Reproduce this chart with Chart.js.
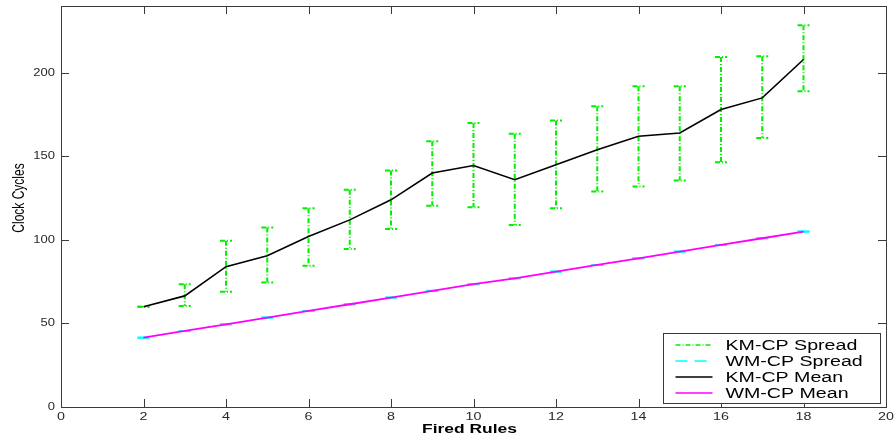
<!DOCTYPE html>
<html>
<head>
<meta charset="utf-8">
<script src="https://cdn.jsdelivr.net/npm/chart.js@4/dist/chart.umd.min.js"></script>
<style>
  html, body { margin: 0; padding: 0; background: #fff; }
  #wrap { width: 894px; height: 441px; }
</style>
</head>
<body>
<div id="wrap"><canvas id="c" width="894" height="441"></canvas></div>
<script>
// Fired rules on the x axis
const firedRules = [2, 3, 4, 5, 6, 7, 8, 9, 10, 11, 12, 13, 14, 15, 16, 17, 18];

// KM-CP: mean clock cycles and spread (min / max)
const kmMean = [60, 66.5, 84, 90.5, 102, 112, 124, 140, 144.5, 136, 145, 154, 162, 164, 178, 185, 208];
const kmLow  = [60, 60.5, 69, 74.5, 84.5, 94.5, 106.5, 120.5, 119.5, 109, 119, 129, 132, 135.5, 146.5, 161, 189];
const kmHigh = [60, 73.5, 99.5, 107.5, 119, 130, 141.5, 159, 170, 163.5, 171.5, 180, 192, 192, 209.5, 210, 228.5];

// WM-CP: mean clock cycles and spread (min / max)
const wmMean = [41.5, 45.5, 49.5, 53.5, 57.5, 61.5, 65.5, 69.5, 73.5, 77, 81, 85, 89, 93, 97, 101, 105];
const wmLow  = [41.5, 45.5, 49.5, 53.5, 57.5, 61.5, 65.5, 69.5, 73.5, 77, 81, 85, 89, 93, 97, 101, 105];
const wmHigh = [41.5, 45.5, 49.5, 53.5, 57.5, 61.5, 65.5, 69.5, 73.5, 77, 81, 85, 89, 93, 97, 101, 105];

// Axis ticks
const xTicks = [0, 2, 4, 6, 8, 10, 12, 14, 16, 18, 20];
const yTicks = [0, 50, 100, 150, 200];

const FONT = '"Liberation Sans", Arial, Helvetica, sans-serif';
const STRETCH = 1.4;
const GREEN = '#00f000';

const pts = (ys) => firedRules.map((x, i) => ({ x: x, y: ys[i] }));

const spreadDash = [5, 2, 1, 2];
const wmDash = [12, 7];

// draws text widened horizontally by sx
function wideText(ctx, text, x, y, font, sx, align) {
  ctx.save();
  ctx.translate(x, y);
  ctx.scale(sx, 1);
  ctx.font = font;
  ctx.textAlign = align;
  ctx.textBaseline = 'middle';
  ctx.fillText(text, 0, 0);
  ctx.restore();
}

// Error bars with caps, drawn under the mean lines
const spreadPlugin = {
  id: 'spreads',
  beforeDatasetsDraw(chart) {
    const ctx = chart.ctx;
    const xs = chart.scales.x, ys = chart.scales.y;
    const bars = [
      { low: wmLow, high: wmHigh, color: '#00ffff', dash: wmDash },
      { low: kmLow, high: kmHigh, color: GREEN, dash: spreadDash }
    ];
    const cap = 6;
    ctx.save();
    ctx.lineWidth = 2;
    bars.forEach(b => {
      ctx.strokeStyle = b.color;
      ctx.setLineDash(b.dash);
      firedRules.forEach((x, i) => {
        const px = xs.getPixelForValue(x);
        const pl = ys.getPixelForValue(b.low[i]);
        const ph = ys.getPixelForValue(b.high[i]);
        ctx.beginPath();
        ctx.moveTo(px, ph); ctx.lineTo(px, pl);
        ctx.stroke();
        ctx.beginPath();
        ctx.moveTo(px - cap, ph); ctx.lineTo(px + cap, ph);
        ctx.stroke();
        ctx.beginPath();
        ctx.moveTo(px - cap, pl); ctx.lineTo(px + cap, pl);
        ctx.stroke();
      });
    });
    ctx.restore();
  }
};

// Box frame, inward tick marks, tick labels, axis titles and the legend
const framePlugin = {
  id: 'frame',
  afterDraw(chart) {
    const ctx = chart.ctx;
    const a = chart.chartArea;
    const xs = chart.scales.x, ys = chart.scales.y;
    const tl = 8;
    ctx.save();
    ctx.strokeStyle = '#3a3a3a';
    ctx.lineWidth = 1;
    ctx.setLineDash([]);
    ctx.strokeRect(Math.round(a.left) + 0.5, Math.round(a.top) + 0.5,
                   Math.round(a.right - a.left), Math.round(a.bottom - a.top));
    ctx.beginPath();
    xTicks.forEach(v => {
      const px = Math.round(xs.getPixelForValue(v)) + 0.5;
      ctx.moveTo(px, a.bottom); ctx.lineTo(px, a.bottom - tl);
      ctx.moveTo(px, a.top); ctx.lineTo(px, a.top + tl);
    });
    yTicks.forEach(v => {
      const py = Math.round(ys.getPixelForValue(v)) + 0.5;
      ctx.moveTo(a.left, py); ctx.lineTo(a.left + tl, py);
      ctx.moveTo(a.right, py); ctx.lineTo(a.right - tl, py);
    });
    ctx.stroke();

    // tick labels
    ctx.fillStyle = '#2a2a2a';
    xTicks.forEach(v => {
      wideText(ctx, String(v), xs.getPixelForValue(v), a.bottom + 10, '11px ' + FONT, 1.3, 'center');
    });
    yTicks.forEach(v => {
      wideText(ctx, String(v), a.left - 6, ys.getPixelForValue(v), '10px ' + FONT, 1.3, 'right');
    });

    // axis titles
    ctx.fillStyle = '#000';
    wideText(ctx, 'Fired Rules', (a.left + a.right) / 2 - 4, 430, 'bold 12px ' + FONT, 1.45, 'center');

    ctx.save();
    ctx.translate(19, 198);
    ctx.scale(STRETCH, 1);
    ctx.rotate(-Math.PI / 2);
    ctx.font = '12px ' + FONT;
    ctx.textAlign = 'center';
    ctx.textBaseline = 'middle';
    ctx.fillText('Clock Cycles', 0, 0);
    ctx.restore();

    // legend
    const bw = 217, bh = 70;
    const bx = Math.round(a.right) - 223 + 0.5, by = Math.round(a.bottom) - 74 + 0.5;
    ctx.fillStyle = '#fff';
    ctx.fillRect(bx, by, bw, bh);
    ctx.strokeStyle = '#3a3a3a';
    ctx.lineWidth = 1;
    ctx.strokeRect(bx, by, bw, bh);
    const entries = chart.data.datasets.map(d => ({
      label: d.label, color: d.borderColor, dash: d.borderDash || [], lw: d.legendWidth || 1.5
    }));
    entries.forEach((e, i) => {
      const y = Math.round(by + 11 + i * 16);
      ctx.strokeStyle = e.color;
      ctx.lineWidth = e.lw;
      ctx.setLineDash(e.dash);
      ctx.beginPath();
      ctx.moveTo(bx + 12, y); ctx.lineTo(bx + 49, y);
      ctx.stroke();
      ctx.setLineDash([]);
      ctx.fillStyle = '#000';
      wideText(ctx, e.label, bx + 62, y + 1, '14px ' + FONT, STRETCH, 'left');
    });
    ctx.restore();
  }
};

new Chart(document.getElementById('c'), {
  type: 'line',
  data: {
    datasets: [
      { label: 'KM-CP Spread', data: [], borderColor: GREEN, borderDash: spreadDash, legendWidth: 1.5, showLine: false, pointRadius: 0 },
      { label: 'WM-CP Spread', data: [], borderColor: '#00ffff', borderDash: wmDash, legendWidth: 1.5, showLine: false, pointRadius: 0 },
      { label: 'KM-CP Mean', data: pts(kmMean), borderColor: '#000000', borderWidth: 1.6, pointRadius: 0, tension: 0, fill: false },
      { label: 'WM-CP Mean', data: pts(wmMean), borderColor: '#ff00ff', borderWidth: 1.8, pointRadius: 0, tension: 0, fill: false }
    ]
  },
  options: {
    responsive: false,
    animation: false,
    events: [],
    layout: { padding: { left: 0, right: 8, top: 6, bottom: 0 } },
    plugins: { legend: { display: false }, tooltip: { enabled: false }, title: { display: false } },
    scales: {
      x: {
        type: 'linear', min: 0, max: 20,
        grid: { display: false }, border: { display: false },
        ticks: { display: false },
        afterFit: s => { s.height = 34; }
      },
      y: {
        type: 'linear', min: 0, max: 240,
        grid: { display: false }, border: { display: false },
        ticks: { display: false },
        afterFit: s => { s.width = 61; }
      }
    }
  },
  plugins: [spreadPlugin, framePlugin]
});
</script>
</body>
</html>
